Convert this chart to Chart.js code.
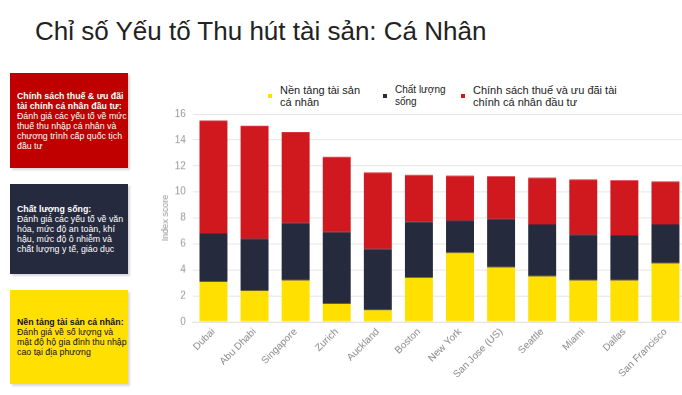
<!DOCTYPE html>
<html>
<head>
<meta charset="utf-8">
<script src="https://cdn.jsdelivr.net/npm/chart.js@4"></script>
<style>
  body { margin: 0; width: 682px; height: 395px; background: #fff; font-family: "Liberation Sans", Arial, sans-serif; position: relative; overflow: hidden; }
  #title { position: absolute; left: 35px; top: 16px; font-size: 26px; color: #222; white-space: nowrap; }
  .box { position: absolute; left: 10px; width: 118px; box-sizing: border-box; padding: 0 0 0 7px; font-size: 8.8px; line-height: 10px; white-space: nowrap; box-shadow: 2px 2px 2px rgba(0,0,0,0.15); display: flex; flex-direction: column; justify-content: center; }
  .box b { font-weight: bold; }
  #legend { position: absolute; top: 84px; left: 0; width: 682px; height: 30px; }
  .lg { position: absolute; font-size: 11px; line-height: 12px; color: #222; }
  .lg i { position: absolute; left: -12px; top: 10px; width: 4px; height: 4px; }
  #wrap { position: absolute; left: 144.5px; top: 101px; width: 541px; height: 282.5px; }
</style>
</head>
<body>
<div id="title">Chỉ số Yếu tố Thu hút tài sản: Cá Nhân</div>

<div class="box" style="top:73px;height:95px;background:#c00000;color:#fff;">
  <div><b>Chính sách thuế &amp; ưu đãi<br>tài chính cá nhân đầu tư:</b><br>Đánh giá các yếu tố về mức<br>thuế thu nhập cá nhân và<br>chương trình cấp quốc tịch<br>đầu tư</div>
</div>
<div class="box" style="top:184px;height:90px;background:#262a3e;color:#fff;">
  <div><b>Chất lượng sống:</b><br>Đánh giá các yếu tố về văn<br>hóa, mức độ an toàn, khí<br>hậu, mức độ ô nhiễm và<br>chất lượng y tế, giáo dục</div>
</div>
<div class="box" style="top:290px;height:94px;background:#ffe000;color:#111;">
  <div><b>Nền tảng tài sản cá nhân:</b><br>Đánh giá về số lượng và<br>mật độ hộ gia đình thu nhập<br>cao tại địa phương</div>
</div>

<div id="legend"></div>
<div id="wrap"><canvas id="chart"></canvas></div>

<script>
// dữ liệu
const cities = ["Dubai", "Abu Dhabi", "Singapore", "Zurich", "Auckland", "Boston", "New York", "San Jose (US)", "Seattle", "Miami", "Dallas", "San Francisco"];
const wealthBase = [3.1, 2.4, 3.2, 1.4, 0.9, 3.4, 5.3, 4.2, 3.5, 3.2, 3.2, 4.5];
const lifeQuality = [3.7, 4.0, 4.4, 5.5, 4.7, 4.3, 2.5, 3.7, 4.0, 3.5, 3.45, 3.0];
const taxIncentive = [8.7, 8.7, 7.0, 5.8, 5.9, 3.6, 3.45, 3.3, 3.6, 4.25, 4.25, 3.3];
const yTicks = [0, 2, 4, 6, 8, 10, 12, 14, 16];

// chú thích (legend) vẽ bằng HTML
const legendItems = [
  { text: "Nền tảng tài sản<br>cá nhân", color: "#ffe000", left: 280, size: 11 },
  { text: "Chất lượng<br>sống", color: "#252a3d", left: 395, size: 10 },
  { text: "Chính sách thuế và ưu đãi tài<br>chính cá nhân đầu tư", color: "#d0191f", left: 473, size: 11 }
];
const legendBox = document.getElementById("legend");
legendItems.forEach(function (it) {
  const d = document.createElement("div");
  d.className = "lg";
  d.style.left = it.left + "px";
  d.style.fontSize = it.size + "px";
  d.innerHTML = '<i style="background:' + it.color + '"></i>' + it.text;
  legendBox.appendChild(d);
});

new Chart(document.getElementById("chart"), {
  type: "bar",
  data: {
    labels: cities,
    datasets: [
      { label: "Nền tảng tài sản cá nhân", data: wealthBase, backgroundColor: "#ffe000" },
      { label: "Chất lượng sống", data: lifeQuality, backgroundColor: "#252a3d" },
      { label: "Chính sách thuế và ưu đãi tài chính cá nhân đầu tư", data: taxIncentive, backgroundColor: "#d0191f" }
    ]
  },
  options: {
    responsive: true,
    maintainAspectRatio: false,
    animation: false,
    layout: { padding: 0 },
    datasets: { bar: { categoryPercentage: 1, barPercentage: 0.68 } },
    plugins: { legend: { display: false }, tooltip: { enabled: false } },
    scales: {
      x: {
        stacked: true,
        grid: { display: false, drawTicks: false },
        border: { color: "#ddd" },
        ticks: { color: "#888", font: { size: 10, family: "Liberation Sans" }, minRotation: 45, maxRotation: 45, padding: 4 }
      },
      y: {
        stacked: true,
        min: 0,
        max: 16,
        afterBuildTicks: function (axis) { axis.ticks = yTicks.map(function (v) { return { value: v }; }); },
        grid: { color: "#e6e6e6", drawTicks: false },
        border: { display: false },
        ticks: { color: "#999", font: { size: 10, family: "Liberation Sans" }, padding: 7 },
        title: { display: true, text: "Index score", color: "#999", font: { size: 9, family: "Liberation Sans" }, padding: { top: 15, bottom: -3 } }
      }
    }
  }
});
</script>
</body>
</html>
